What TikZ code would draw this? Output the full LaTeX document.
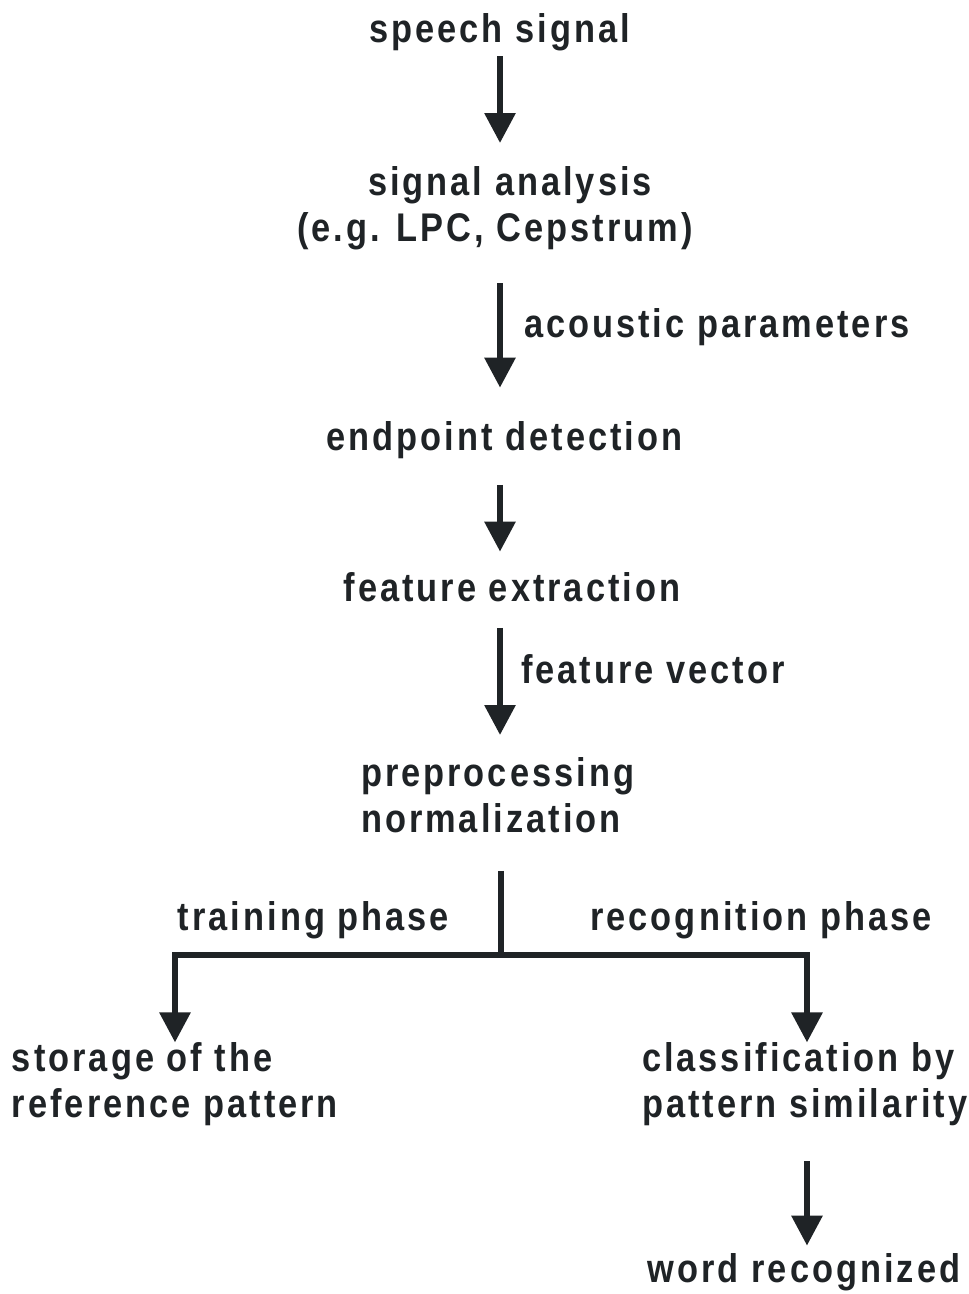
\documentclass[tikz,border=0pt]{standalone}
\usepackage{fontspec}
\setmainfont{Liberation Sans}[FakeStretch=0.86, LetterSpace=7.5]
\usetikzlibrary{arrows.meta}
\definecolor{ink}{HTML}{1F2326}
\begin{document}
\begin{tikzpicture}[x=1pt,y=-1pt,
  lbl/.style={inner sep=0pt, outer sep=0pt, font=\fontsize{40}{46}\selectfont\bfseries, text=ink},
  ln/.style={draw=ink, line width=6pt},
  arr/.style={ln, -{Triangle[width=30pt,length=30pt]}}]
\useasboundingbox[fill=white] (0,0) rectangle (969,1294);
% reference x positions of the connectors
\coordinate (ax) at (500,0);
\coordinate (lx) at (175,0);
\coordinate (rx) at (807,0);
\coordinate (j) at (501,955);
% texts
\node[lbl, anchor=base] (ss) at (499.5,42) {speech signal};
\node[lbl, anchor=north, align=center] (sa) at (495,167) {\hspace*{30pt}signal analysis\\(e.g. LPC, Cepstrum)};
\node[lbl, anchor=base west] (ap) at (524,337) {acoustic parameters};
\node[lbl, anchor=base] (ed) at (504.5,450) {endpoint detection};
\node[lbl, anchor=base] (fe) at (512,601) {feature extraction};
\node[lbl, anchor=base west] (fv) at (521,683) {feature vector};
\node[lbl, anchor=north west, align=left] (pp) at (361,757.4) {preprocessing\\normalization};
\node[lbl, anchor=base] (tp) at (313.5,930) {training phase};
\node[lbl, anchor=base] (rp) at (761,930) {recognition phase};
\node[lbl, anchor=north west, align=left] (st) at (12,1042.4) {storage of the\\reference pattern};
\node[lbl, anchor=north west, align=left] (cl) at (642,1042.4) {classification by\\pattern similarity};
\node[lbl, anchor=base] (wr) at (804,1282) {word recognized};
% connectors
\draw[arr, shorten <=5.6pt, shorten >=24pt] (ss.south -| ax) -- (sa.north -| ax);
\draw[arr, shorten <=33pt, shorten >=33.4pt] (sa.south -| ax) -- (ed.north -| ax);
\draw[arr, shorten <=26.6pt, shorten >=20.4pt] (ed.south -| ax) -- (fe.north -| ax);
\draw[arr, shorten <=26.5pt, shorten >=22.4pt] (fe.south -| ax) -- (pp.north -| ax);
\draw[ln, shorten <=38pt] (pp.south -| j) -- (j);
\draw[arr] (j) -| (st.north -| lx);
\draw[arr] (j) -| (cl.north -| rx);
\draw[arr, shorten <=35.6pt, shorten >=7.4pt] (cl.south -| rx) -- (wr.north -| rx);
\end{tikzpicture}
\end{document}
